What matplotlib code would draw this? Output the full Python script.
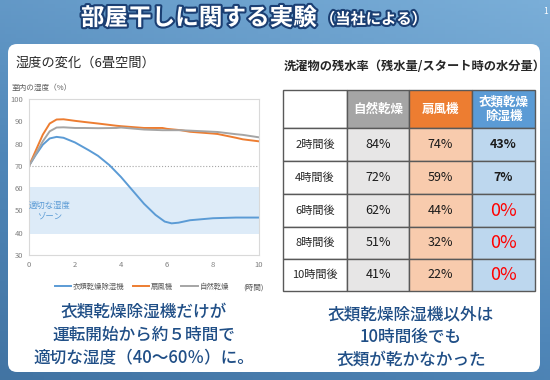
import numpy as np
import matplotlib.pyplot as plt
import matplotlib.patheffects as pe
from matplotlib.patches import Rectangle, FancyBboxPatch
from matplotlib.colors import LinearSegmentedColormap

plt.rcParams['font.family'] = ['Noto Sans CJK JP', 'DejaVu Sans']

# humidity curves (hours, %)
hours_blue = [0, 0.3, 0.6, 0.9, 1.2, 1.5, 2, 2.6, 3, 3.5, 4, 4.5, 5, 5.5, 5.9, 6.2, 6.5, 7, 8, 9, 10]
dehumidifier = [70, 75, 79.5, 82.3, 83, 82.6, 80.5, 77, 74.5, 70.3, 65, 59, 53, 48, 45, 44.2, 44.5, 45.6, 46.5, 46.8, 46.8]
hours = [0, 0.3, 0.6, 0.9, 1.2, 1.5, 2, 2.4, 3, 3.8, 4, 5, 5.8, 6, 6.6, 7, 8, 8.2, 9, 9.3, 10]
fan = [70, 77, 84, 89, 90.8, 90.9, 90.2, 89.7, 89, 88, 87.8, 87, 87, 86.6, 86, 85.3, 84.5, 84.3, 82.6, 81.9, 81]
natural = [70, 75.5, 81, 85.5, 87.2, 87.3, 87, 87, 86.9, 87, 87.2, 86.3, 86, 86, 86, 85.8, 85.3, 85.2, 84.2, 83.9, 82.8]

# table: remaining water ratio (%)
row_labels = ['2時間後', '4時間後', '6時間後', '8時間後', '10時間後']
col_labels = ['自然乾燥', '扇風機', '衣類乾燥\n除湿機']
tbl_natural = [84, 72, 62, 51, 41]
tbl_fan = [74, 59, 44, 32, 22]
tbl_dehum = [43, 7, 0, 0, 0]

fig = plt.figure(figsize=(5.5, 3.8), dpi=100)

# background in pixel coordinates
bg = fig.add_axes([0, 0, 1, 1])
bg.set_xlim(0, 550)
bg.set_ylim(380, 0)
bg.axis('off')
grad = np.linspace(0, 1, 100)[:, None] * np.ones((1, 100))
xg = np.linspace(0, 1, 100)[None, :]
cmap = LinearSegmentedColormap.from_list('bg', ['#7aaed8', '#4f86b8', '#3b6a97'])
bg.imshow(0.55 * grad + 0.45 * (1 - xg) * 0.6, cmap=cmap, extent=[0, 550, 380, 0],
          aspect='auto', vmin=0, vmax=1)
bg.add_patch(FancyBboxPatch((8, 44), 532, 328, boxstyle='round,pad=0,rounding_size=9',
                            fc='white', ec='none'))

stroke = [pe.withStroke(linewidth=3, foreground='#1b3f73')]
bg.text(317, 18, '部屋干しに関する実験', ha='right', va='center', fontsize=17,
        fontweight='bold', color='white', path_effects=stroke)
bg.text(320, 19, '（当社による）', ha='left', va='center', fontsize=11,
        fontweight='bold', color='white', path_effects=stroke)
bg.text(546, 12, '1', ha='center', va='center', fontsize=6, color='white')

# left panel titles
bg.text(16, 63, '湿度の変化（6畳空間）', ha='left', va='center', fontsize=9.5, color='#262626')
bg.text(12, 88, '室内の湿度（%）', ha='left', va='center', fontsize=5.5, color='#595959')
bg.text(254, 288, '(時間)', ha='center', va='center', fontsize=5.5, color='#595959')

# right panel title
bg.text(284, 67, '洗濯物の残水率（残水量/スタート時の水分量）', ha='left', va='center',
        fontsize=8.8, fontweight='bold', color='#262626')

# table
xs = [283, 347, 409, 472, 535]
ys = [90, 128, 161, 194, 227, 259, 291]
head_colors = ['#a5a5a5', '#ed7d31', '#5b9bd5']
body_colors = ['#e7e6e6', '#f8cbad', '#bdd7ee']
bg.add_patch(Rectangle((xs[0], ys[0]), xs[1] - xs[0], ys[1] - ys[0], fc='white', ec='#595959', lw=1))
for j, lab in enumerate(col_labels):
    bg.add_patch(Rectangle((xs[j + 1], ys[0]), xs[j + 2] - xs[j + 1], ys[1] - ys[0],
                           fc=head_colors[j], ec='#595959', lw=1))
    bg.text((xs[j + 1] + xs[j + 2]) / 2, (ys[0] + ys[1]) / 2, lab, ha='center', va='center',
            fontsize=9, fontweight='bold', color='white', linespacing=1.1)
columns = [tbl_natural, tbl_fan, tbl_dehum]
for i, lab in enumerate(row_labels):
    y0, y1 = ys[i + 1], ys[i + 2]
    bg.add_patch(Rectangle((xs[0], y0), xs[1] - xs[0], y1 - y0, fc='white', ec='#595959', lw=1))
    bg.text((xs[0] + xs[1]) / 2, (y0 + y1) / 2, lab, ha='center', va='center',
            fontsize=8, color='#262626')
    for j, col in enumerate(columns):
        bg.add_patch(Rectangle((xs[j + 1], y0), xs[j + 2] - xs[j + 1], y1 - y0,
                               fc=body_colors[j], ec='#595959', lw=1))
        v = col[i]
        kw = dict(fontsize=9, color='#1a1a1a')
        if j == 2 and v == 0:
            kw = dict(fontsize=13, color='#ff0000')
        elif j == 2:
            kw = dict(fontsize=9, color='#1a1a1a', fontweight='bold')
        bg.text((xs[j + 1] + xs[j + 2]) / 2, (y0 + y1) / 2, f'{v}%', ha='center',
                va='center', **kw)

# bottom messages
navy = '#1f4e86'
for y, s in zip([312, 335, 358], ['衣類乾燥除湿機だけが', '運転開始から約５時間で',
                                  '適切な湿度（40〜60％）に。']):
    bg.text(144, y, s, ha='center', va='center', fontsize=12, color=navy, fontweight='medium')
for y, s in zip([314, 337, 360], ['衣類乾燥除湿機以外は', '10時間後でも', '衣類が乾かなかった']):
    bg.text(411, y, s, ha='center', va='center', fontsize=12, color=navy, fontweight='medium')

# humidity chart
ax = fig.add_axes([29 / 550, 1 - 255 / 380, 230 / 550, 156 / 380])
ax.axhspan(39.5, 60.5, color='#ddebf8', lw=0)
ax.axhline(70, color='#a6a6a6', ls=':', lw=0.8)
ax.text(0.9, 50, '適切な湿度\nゾーン', ha='center', va='center', fontsize=6,
        color='#5b9bd5', linespacing=1.2)
ax.plot(hours_blue, dehumidifier, color='#5b9bd5', lw=1.4, label='衣類乾燥除湿機')
ax.plot(hours, fan, color='#ed7d31', lw=1.4, label='扇風機')
ax.plot(hours, natural, color='#a5a5a5', lw=1.4, label='自然乾燥')
ax.set_xlim(0, 10)
ax.set_ylim(30, 100)
ax.set_xticks(range(0, 11, 2))
ax.set_yticks(range(30, 101, 10))
ax.tick_params(length=0, labelsize=5.5, labelcolor='#7f7f7f', pad=4)
for sp in ax.spines.values():
    sp.set_color('#d9d9d9')
    sp.set_linewidth(0.8)
ax.legend(loc='center', bbox_to_anchor=(142 / 550, 1 - 287 / 380), bbox_transform=fig.transFigure,
          ncol=3, frameon=False, fontsize=5.3, labelcolor='#595959', handlelength=2.2,
          columnspacing=1.1, handletextpad=0.3)

fig.savefig('out.png', dpi=100)
